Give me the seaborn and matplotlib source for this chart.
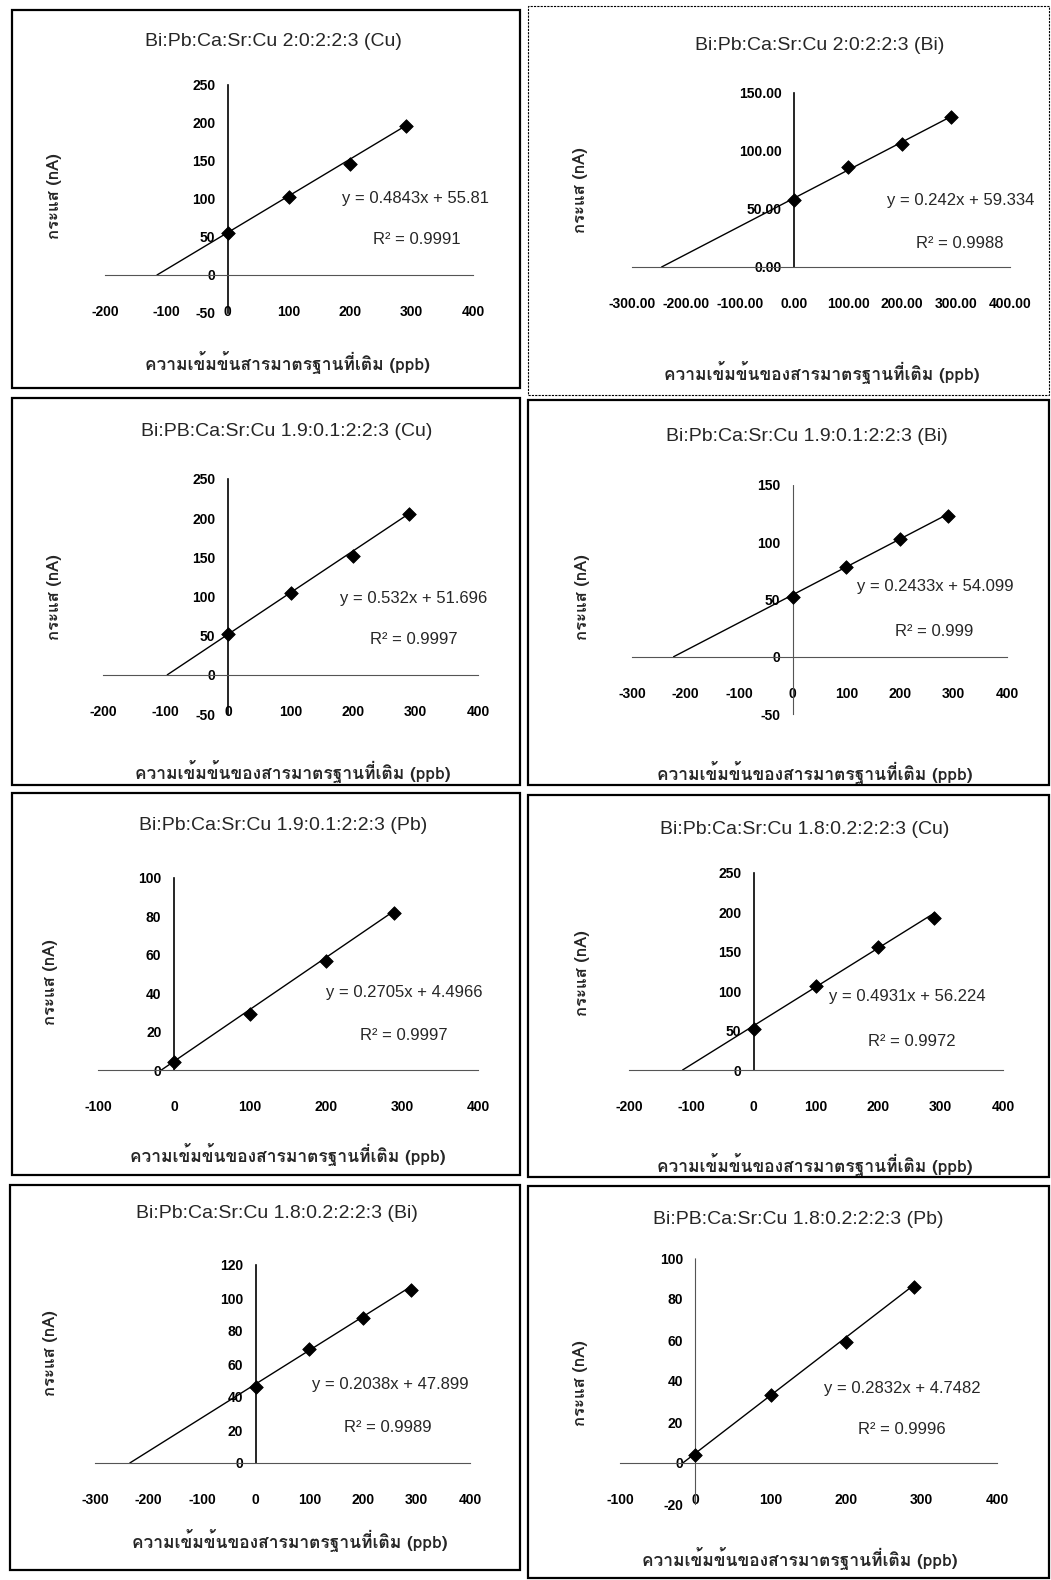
import numpy as np
import seaborn as sns
import matplotlib.pyplot as plt
from matplotlib.patches import Rectangle

# standard addition data (added concentration in ppb, current in nA)
conc = [0, 100, 200, 290]

current_cu_20 = [55, 103, 146, 196]
current_bi_20 = [58, 86, 106, 129]
current_cu_19 = [52, 105, 152, 205]
current_bi_19 = [52, 78, 103, 123]
current_pb_19 = [4, 29, 57, 82]
current_cu_18 = [52, 107, 156, 193]
current_bi_18 = [46, 69, 88, 105]
current_pb_18 = [4, 33, 59, 86]

titles = ["Bi:Pb:Ca:Sr:Cu 2:0:2:2:3 (Cu)", "Bi:Pb:Ca:Sr:Cu 2:0:2:2:3 (Bi)",
          "Bi:PB:Ca:Sr:Cu 1.9:0.1:2:2:3 (Cu)", "Bi:Pb:Ca:Sr:Cu 1.9:0.1:2:2:3 (Bi)",
          "Bi:Pb:Ca:Sr:Cu 1.9:0.1:2:2:3 (Pb)", "Bi:Pb:Ca:Sr:Cu 1.8:0.2:2:2:3 (Cu)",
          "Bi:Pb:Ca:Sr:Cu 1.8:0.2:2:2:3 (Bi)", "Bi:PB:Ca:Sr:Cu 1.8:0.2:2:2:3 (Pb)"]
slopes = [0.4843, 0.242, 0.532, 0.2433, 0.2705, 0.4931, 0.2038, 0.2832]
intercepts = [55.81, 59.334, 51.696, 54.099, 4.4966, 56.224, 47.899, 4.7482]
r_squared = ["0.9991", "0.9988", "0.9997", "0.999", "0.9997", "0.9972", "0.9989", "0.9996"]

x_mins = [-200, -300, -200, -300, -100, -200, -300, -100]
y_ticks = [[-50, 0, 50, 100, 150, 200, 250], [0, 50, 100, 150],
           [-50, 0, 50, 100, 150, 200, 250], [-50, 0, 50, 100, 150],
           [0, 20, 40, 60, 80, 100], [0, 50, 100, 150, 200, 250],
           [0, 20, 40, 60, 80, 100, 120], [-20, 0, 20, 40, 60, 80, 100]]
ylabel = "กระแส (nA)"
xlabels = ["ความเข้มข้นสารมาตรฐานที่เติม (ppb)"] + ["ความเข้มข้นของสารมาตรฐานที่เติม (ppb)"] * 7

series = [current_cu_20, current_bi_20, current_cu_19, current_bi_19,
          current_pb_19, current_cu_18, current_bi_18, current_pb_18]

sns.set_style("white")
plt.rcParams['font.family'] = ['Liberation Sans', 'DejaVu Sans']
plt.rcParams['axes.unicode_minus'] = False
thai_family = ['Loma', 'Garuda', 'DejaVu Sans']

W, H = 1051, 1580
fig = plt.figure(figsize=(W / 100, H / 100), dpi=100)

# layout in pixels
axes_px = [(105, 473, 85, 313), (632, 1010, 93, 267), (103, 478, 479, 714), (632, 1007, 485, 714),
           (98, 478, 878, 1070), (629, 1003, 873, 1070), (95, 470, 1265, 1463), (620, 997, 1258, 1504)]
frames_px = [(12, 10, 520, 388), (528, 6, 1049, 395), (12, 398, 520, 785), (528, 400, 1049, 785),
             (12, 793, 520, 1175), (528, 795, 1049, 1177), (10, 1185, 520, 1570), (528, 1186, 1049, 1578)]
title_px = [(273, 42), (820, 45), (287, 432), (807, 437), (283, 826), (805, 829), (277, 1213), (798, 1219)]
eq_px = [(342, 198, 373, 240), (887, 201, 916, 243), (340, 598, 370, 640), (857, 586, 895, 632),
         (326, 993, 360, 1036), (829, 996, 868, 1042), (312, 1385, 344, 1428), (824, 1388, 858, 1430)]
ylab_px = [(55, 196), (580, 190), (55, 597), (583, 597), (50, 982), (582, 973), (50, 1353), (580, 1383)]
xlab_px = [(287, 363), (822, 372), (293, 772), (815, 773), (288, 1155), (815, 1165), (290, 1540), (800, 1558)]
yaxis_dotted = [False, False, False, True, False, False, False, True]


def fx(px):
    return px / W


def fy(py):
    return 1 - py / H


for i in range(8):
    x0, x1, t, b = axes_px[i]
    ax = fig.add_axes([fx(x0), fy(b), (x1 - x0) / W, (b - t) / H])
    m, c = slopes[i], intercepts[i]
    xs = np.array([-c / m, conc[-1]])
    sns.lineplot(x=xs, y=m * xs + c, ax=ax, color='black', lw=1.0)
    sns.scatterplot(x=conc, y=series[i], ax=ax, marker='D', color='black', s=48,
                    edgecolor='black', zorder=3)
    ax.set_xlim(x_mins[i], 400)
    ax.set_ylim(y_ticks[i][0], y_ticks[i][-1])
    ax.set_xticks(np.arange(x_mins[i], 401, 100))
    ax.set_yticks(y_ticks[i])
    if i == 1:
        ax.set_xticklabels([f"{v:.2f}" for v in ax.get_xticks()])
        ax.set_yticklabels([f"{v:.2f}" for v in y_ticks[i]])
    ax.set_xlabel('')
    ax.set_ylabel('')
    for s in ['top', 'right']:
        ax.spines[s].set_visible(False)
    ax.spines['left'].set_position(('data', 0))
    ax.spines['bottom'].set_position(('data', 0))
    ax.spines['bottom'].set_color('#555555')
    ax.spines['bottom'].set_linestyle((0, (2, 1)))
    ax.spines['bottom'].set_linewidth(0.8)
    if yaxis_dotted[i]:
        ax.spines['left'].set_color('#555555')
        ax.spines['left'].set_linestyle((0, (2, 1)))
        ax.spines['left'].set_linewidth(0.8)
    else:
        ax.spines['left'].set_color('black')
        ax.spines['left'].set_linewidth(1.2)
    ax.tick_params(axis='x', direction='inout', length=5, width=0.8, pad=19,
                   labelsize=10, colors='black')
    ax.tick_params(axis='y', direction='out', length=3, width=0.8, pad=6,
                   labelsize=10, colors='black')
    for lab in ax.get_xticklabels() + ax.get_yticklabels():
        lab.set_fontweight('bold')
    ax.patch.set_alpha(0)

    fl, ft, fr, fb = frames_px[i]
    fig.add_artist(Rectangle((fx(fl), fy(fb)), (fr - fl) / W, (fb - ft) / H, transform=fig.transFigure,
                             fill=False, edgecolor='black',
                             lw=0.8 if i == 1 else 1.6, ls=(0, (2, 1)) if i == 1 else '-'))
    tx, ty = title_px[i]
    fig.text(fx(tx), fy(ty), titles[i], ha='center', va='center', fontsize=14)
    ex, ey, rx, ry = eq_px[i]
    fig.text(fx(ex), fy(ey), f"y = {m}x + {c}", ha='left', va='center', fontsize=12)
    fig.text(fx(rx), fy(ry), f"R² = {r_squared[i]}", ha='left', va='center', fontsize=12)
    lx, ly = ylab_px[i]
    fig.text(fx(lx), fy(ly), ylabel, rotation=90, ha='center', va='center', fontsize=12,
             fontweight='bold', family=thai_family)
    lx, ly = xlab_px[i]
    fig.text(fx(lx), fy(ly), xlabels[i], ha='center', va='center', fontsize=12.5,
             fontweight='bold', family=thai_family)

fig.savefig("out.png", dpi=100, facecolor='white')
